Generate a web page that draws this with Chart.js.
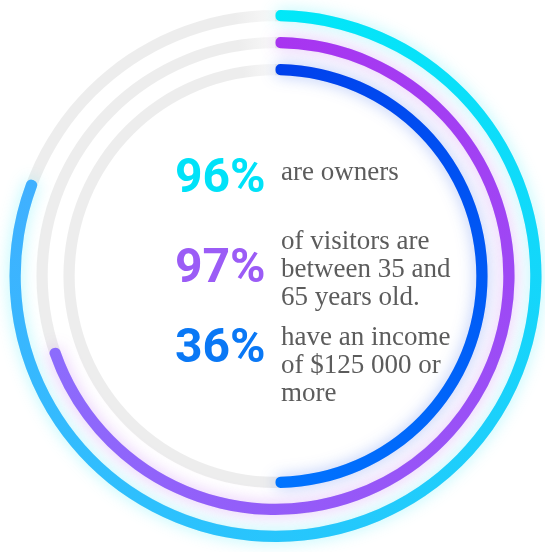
<!DOCTYPE html>
<html>
<head>
<meta charset="utf-8">
<script src="https://cdn.jsdelivr.net/npm/chart.js@4.4.1/dist/chart.umd.min.js"></script>
<style>
  html, body { margin: 0; padding: 0; background: #fff; }
  .wrap { position: relative; width: 545px; height: 552px; overflow: hidden; }
  .wrap canvas { position: absolute; left: 0; top: 0; }
  .pct { position: absolute; left: 175px; font-family: Roboto, sans-serif; font-weight: 700; font-size: 48px; line-height: 48px; }
  .txt { position: absolute; left: 281px; font-family: "Liberation Serif", serif; font-size: 27px; line-height: 28px; color: #5c5c5c; white-space: nowrap; }
</style>
</head>
<body>
<div class="wrap">
  <canvas id="track" width="551" height="552"></canvas>
  <canvas id="rings" width="551" height="552"></canvas>
  <div id="labels"></div>
</div>
<script>
// ring fill (share of the circle drawn), outer -> inner
var ringNames = ['owners', 'age', 'income'];
var ringShare = [81, 70, 50];
var startColors = ['#00e8f8', '#a834f0', '#0040ec'];
var endColors = ['#40b0ff', '#8c6cfc', '#0074ff'];

// centre text
var pctLabels = ['96%', '97%', '36%'];
var pctColors = ['#00e2f8', '#9b5cf6', '#0a78f5'];
var captions = [
  ['are owners'],
  ['of visitors are', 'between 35 and', '65 years old.'],
  ['have an income', 'of $125 000 or', 'more']
];
var pctTops = [152, 242, 322];
var captionTops = [157, 226, 322];

// ring, gap, ring, gap, ring (px)
var ringWeights = [10, 14, 10, 14, 10];

function centerOf(chart) {
  var a = chart.chartArea;
  return { x: (a.left + a.right) / 2, y: (a.top + a.bottom) / 2 };
}

function gradientFor(i) {
  return function(context) {
    var chart = context.chart;
    if (!chart.chartArea) return startColors[i];
    if (context.dataIndex !== 0) return 'rgba(0,0,0,0)';
    var c = centerOf(chart);
    var g = chart.ctx.createConicGradient(-Math.PI / 2, c.x, c.y);
    g.addColorStop(0, startColors[i]);
    g.addColorStop(ringShare[i] / 100, endColors[i]);
    g.addColorStop(1, endColors[i]);
    return g;
  };
}

function trackColor(context) {
  var chart = context.chart;
  if (!chart.chartArea) return '#ededed';
  var c = centerOf(chart);
  var g = chart.ctx.createConicGradient(-Math.PI / 2, c.x, c.y);
  g.addColorStop(0, '#ededed');
  g.addColorStop(0.975, '#ededed');
  g.addColorStop(1, '#f9f9f9');
  return g;
}

function buildDatasets(isTrack) {
  var sets = [];
  for (var i = 0; i < ringShare.length; i++) {
    if (i > 0) {
      sets.push({ data: [100], backgroundColor: 'rgba(0,0,0,0)', weight: ringWeights[i * 2 - 1], borderWidth: 0 });
    }
    if (isTrack) {
      sets.push({ label: ringNames[i], data: [100], backgroundColor: trackColor, weight: ringWeights[i * 2], borderWidth: 0 });
    } else {
      sets.push({
        label: ringNames[i],
        data: [ringShare[i], 100 - ringShare[i]],
        backgroundColor: gradientFor(i),
        borderRadius: function(ctx) { return ctx.dataIndex === 0 ? 5 : 0; },
        weight: ringWeights[i * 2],
        borderWidth: 0,
        glow: startColors[i]
      });
    }
  }
  return sets;
}

var glowPlugin = {
  id: 'glow',
  beforeDatasetDraw: function(chart, args) {
    var ds = chart.data.datasets[args.index];
    var ctx = chart.ctx;
    ctx.save();
    if (ds.glow) {
      ctx.shadowColor = ds.glow + '4d';
      ctx.shadowBlur = 16;
    }
  },
  afterDatasetDraw: function(chart) {
    chart.ctx.restore();
  }
};

function makeChart(id, isTrack) {
  return new Chart(document.getElementById(id), {
    type: 'doughnut',
    data: { labels: ['filled', 'rest'], datasets: buildDatasets(isTrack) },
    options: {
      responsive: false,
      animation: false,
      radius: 266,
      cutout: 208,
      hoverOffset: 0,
      offset: 0,
      events: [],
      plugins: { legend: { display: false }, tooltip: { enabled: false } }
    },
    plugins: isTrack ? [] : [glowPlugin]
  });
}

makeChart('track', true);
makeChart('rings', false);

var labels = document.getElementById('labels');
pctLabels.forEach(function(p, i) {
  var pct = document.createElement('div');
  pct.className = 'pct';
  pct.style.top = pctTops[i] + 'px';
  pct.style.color = pctColors[i];
  pct.textContent = p;
  labels.appendChild(pct);

  var txt = document.createElement('div');
  txt.className = 'txt';
  txt.style.top = captionTops[i] + 'px';
  txt.innerHTML = captions[i].join('<br>');
  labels.appendChild(txt);
});
</script>
</body>
</html>
